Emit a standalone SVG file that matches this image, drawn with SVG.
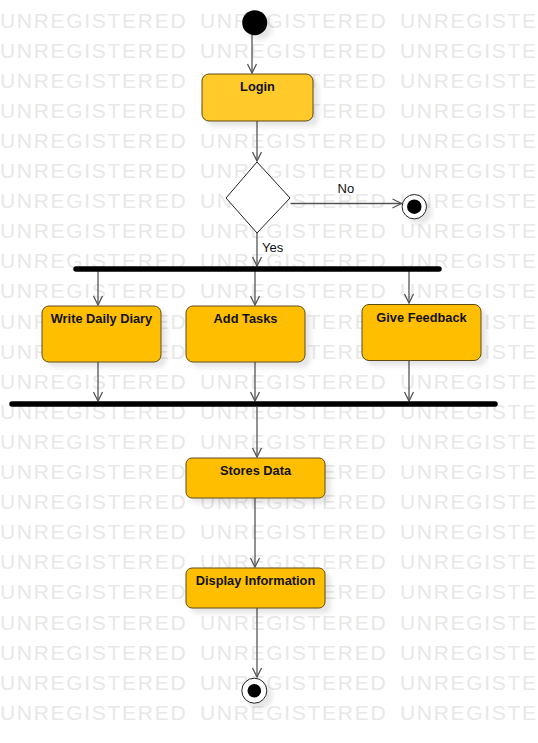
<svg xmlns="http://www.w3.org/2000/svg" width="538" height="743" viewBox="0 0 538 743">
<defs>
<style>
.wm{font-family:"Liberation Sans",Arial,sans-serif;font-size:21px;letter-spacing:1.7px;fill:#e8e8e8}
.box{fill:#ffbf00;stroke:#5c4a12;stroke-width:1}
.login{fill:#ffca2c;stroke:#5c4a12;stroke-width:1}
.lbl{font-family:"Liberation Sans",Arial,sans-serif;font-size:12.8px;font-weight:bold;fill:#111;text-anchor:middle}
.glbl{font-family:"Liberation Sans",Arial,sans-serif;font-size:13px;fill:#111}
.edge{stroke:#555;stroke-width:1.3;fill:none;marker-end:url(#arr)}
.bar{stroke:#000;stroke-width:5.5;stroke-linecap:round}
</style>
<marker id="arr" markerWidth="12" markerHeight="12" refX="0" refY="0" viewBox="-10 -6 12 12" orient="auto" markerUnits="userSpaceOnUse">
<path d="M -9 -4.5 L 0 0 L -9 4.5" fill="none" stroke="#555" stroke-width="1.3"/>
</marker>
<filter id="sh" x="-20%" y="-20%" width="150%" height="160%">
<feDropShadow dx="5" dy="5" stdDeviation="2.5" flood-color="#000" flood-opacity="0.1"/>
</filter>
</defs>
<rect width="538" height="743" fill="#fff"/>
<g id="watermark">
<text class="wm" x="0" y="27.5">UNREGISTERED</text><text class="wm" x="200" y="27.5">UNREGISTERED</text><text class="wm" x="400" y="27.5">UNREGISTERED</text>
<text class="wm" x="0" y="57.6">UNREGISTERED</text><text class="wm" x="200" y="57.6">UNREGISTERED</text><text class="wm" x="400" y="57.6">UNREGISTERED</text>
<text class="wm" x="0" y="87.7">UNREGISTERED</text><text class="wm" x="200" y="87.7">UNREGISTERED</text><text class="wm" x="400" y="87.7">UNREGISTERED</text>
<text class="wm" x="0" y="117.8">UNREGISTERED</text><text class="wm" x="200" y="117.8">UNREGISTERED</text><text class="wm" x="400" y="117.8">UNREGISTERED</text>
<text class="wm" x="0" y="147.9">UNREGISTERED</text><text class="wm" x="200" y="147.9">UNREGISTERED</text><text class="wm" x="400" y="147.9">UNREGISTERED</text>
<text class="wm" x="0" y="178">UNREGISTERED</text><text class="wm" x="200" y="178">UNREGISTERED</text><text class="wm" x="400" y="178">UNREGISTERED</text>
<text class="wm" x="0" y="208.1">UNREGISTERED</text><text class="wm" x="200" y="208.1">UNREGISTERED</text><text class="wm" x="400" y="208.1">UNREGISTERED</text>
<text class="wm" x="0" y="238.2">UNREGISTERED</text><text class="wm" x="200" y="238.2">UNREGISTERED</text><text class="wm" x="400" y="238.2">UNREGISTERED</text>
<text class="wm" x="0" y="268.3">UNREGISTERED</text><text class="wm" x="200" y="268.3">UNREGISTERED</text><text class="wm" x="400" y="268.3">UNREGISTERED</text>
<text class="wm" x="0" y="298.4">UNREGISTERED</text><text class="wm" x="200" y="298.4">UNREGISTERED</text><text class="wm" x="400" y="298.4">UNREGISTERED</text>
<text class="wm" x="0" y="328.5">UNREGISTERED</text><text class="wm" x="200" y="328.5">UNREGISTERED</text><text class="wm" x="400" y="328.5">UNREGISTERED</text>
<text class="wm" x="0" y="358.6">UNREGISTERED</text><text class="wm" x="200" y="358.6">UNREGISTERED</text><text class="wm" x="400" y="358.6">UNREGISTERED</text>
<text class="wm" x="0" y="388.7">UNREGISTERED</text><text class="wm" x="200" y="388.7">UNREGISTERED</text><text class="wm" x="400" y="388.7">UNREGISTERED</text>
<text class="wm" x="0" y="418.8">UNREGISTERED</text><text class="wm" x="200" y="418.8">UNREGISTERED</text><text class="wm" x="400" y="418.8">UNREGISTERED</text>
<text class="wm" x="0" y="448.9">UNREGISTERED</text><text class="wm" x="200" y="448.9">UNREGISTERED</text><text class="wm" x="400" y="448.9">UNREGISTERED</text>
<text class="wm" x="0" y="479">UNREGISTERED</text><text class="wm" x="200" y="479">UNREGISTERED</text><text class="wm" x="400" y="479">UNREGISTERED</text>
<text class="wm" x="0" y="509.1">UNREGISTERED</text><text class="wm" x="200" y="509.1">UNREGISTERED</text><text class="wm" x="400" y="509.1">UNREGISTERED</text>
<text class="wm" x="0" y="539.2">UNREGISTERED</text><text class="wm" x="200" y="539.2">UNREGISTERED</text><text class="wm" x="400" y="539.2">UNREGISTERED</text>
<text class="wm" x="0" y="569.3">UNREGISTERED</text><text class="wm" x="200" y="569.3">UNREGISTERED</text><text class="wm" x="400" y="569.3">UNREGISTERED</text>
<text class="wm" x="0" y="599.4">UNREGISTERED</text><text class="wm" x="200" y="599.4">UNREGISTERED</text><text class="wm" x="400" y="599.4">UNREGISTERED</text>
<text class="wm" x="0" y="629.5">UNREGISTERED</text><text class="wm" x="200" y="629.5">UNREGISTERED</text><text class="wm" x="400" y="629.5">UNREGISTERED</text>
<text class="wm" x="0" y="659.6">UNREGISTERED</text><text class="wm" x="200" y="659.6">UNREGISTERED</text><text class="wm" x="400" y="659.6">UNREGISTERED</text>
<text class="wm" x="0" y="689.7">UNREGISTERED</text><text class="wm" x="200" y="689.7">UNREGISTERED</text><text class="wm" x="400" y="689.7">UNREGISTERED</text>
<text class="wm" x="0" y="719.8">UNREGISTERED</text><text class="wm" x="200" y="719.8">UNREGISTERED</text><text class="wm" x="400" y="719.8">UNREGISTERED</text>
</g>
<g id="connectors">
<line class="edge" x1="252" y1="35" x2="252" y2="73"/>
<line class="edge" x1="257" y1="121" x2="257" y2="161"/>
<line class="edge" x1="290.5" y1="203.5" x2="401.5" y2="203.5"/>
<line class="edge" x1="257" y1="233" x2="257" y2="266"/>
<line class="edge" x1="98" y1="271" x2="98" y2="305"/>
<line class="edge" x1="255" y1="271" x2="255" y2="305"/>
<line class="edge" x1="409" y1="271" x2="409" y2="303"/>
<line class="edge" x1="98" y1="362" x2="98" y2="401"/>
<line class="edge" x1="255" y1="362" x2="255" y2="401"/>
<line class="edge" x1="409" y1="361" x2="409" y2="401"/>
<line class="edge" x1="257" y1="407" x2="257" y2="457"/>
<line class="edge" x1="255" y1="498" x2="255" y2="567"/>
<line class="edge" x1="257" y1="608" x2="257" y2="677"/>
<text class="glbl" x="337.5" y="192.5">No</text>
<text class="glbl" x="262" y="252">Yes</text>
</g>
<g id="start">
<circle cx="254.7" cy="22.7" r="12.5" fill="#000" filter="url(#sh)"/>
</g>
<g id="login">
<rect class="login" x="202" y="74" width="111" height="47" rx="7" filter="url(#sh)"/>
<text class="lbl" x="257.5" y="91">Login</text>
</g>
<g id="decision">
<polygon points="257,162 290,198 257,233 226,198" fill="#fff" stroke="#222" stroke-width="1"/>
</g>
<g id="end1">
<circle cx="414.3" cy="206.7" r="12.2" fill="#fff" stroke="#222" stroke-width="1" filter="url(#sh)"/>
<circle cx="414.3" cy="206.7" r="7.2" fill="#000"/>
</g>
<g id="fork">
<line class="bar" x1="76" y1="269" x2="439" y2="269"/>
</g>
<g id="write-diary">
<rect class="box" x="42" y="306" width="119" height="56" rx="7" filter="url(#sh)"/>
<text class="lbl" x="101.5" y="323">Write Daily Diary</text>
</g>
<g id="add-tasks">
<rect class="box" x="186" y="306" width="119" height="56" rx="7" filter="url(#sh)"/>
<text class="lbl" x="245.5" y="323">Add Tasks</text>
</g>
<g id="give-feedback">
<rect class="box" x="362" y="304.5" width="119" height="56" rx="7" filter="url(#sh)"/>
<text class="lbl" x="421.5" y="321.5">Give Feedback</text>
</g>
<g id="join">
<line class="bar" x1="12" y1="404" x2="495" y2="404"/>
</g>
<g id="stores-data">
<rect class="box" x="186" y="458" width="139" height="40" rx="6" filter="url(#sh)"/>
<text class="lbl" x="255.5" y="474.5">Stores Data</text>
</g>
<g id="display-info">
<rect class="box" x="186" y="568" width="139" height="40" rx="6" filter="url(#sh)"/>
<text class="lbl" x="255.5" y="585">Display Information</text>
</g>
<g id="end2">
<circle cx="254.3" cy="690.7" r="12.5" fill="#fff" stroke="#222" stroke-width="1" filter="url(#sh)"/>
<circle cx="254.3" cy="690.7" r="6.8" fill="#000"/>
</g>
</svg>
